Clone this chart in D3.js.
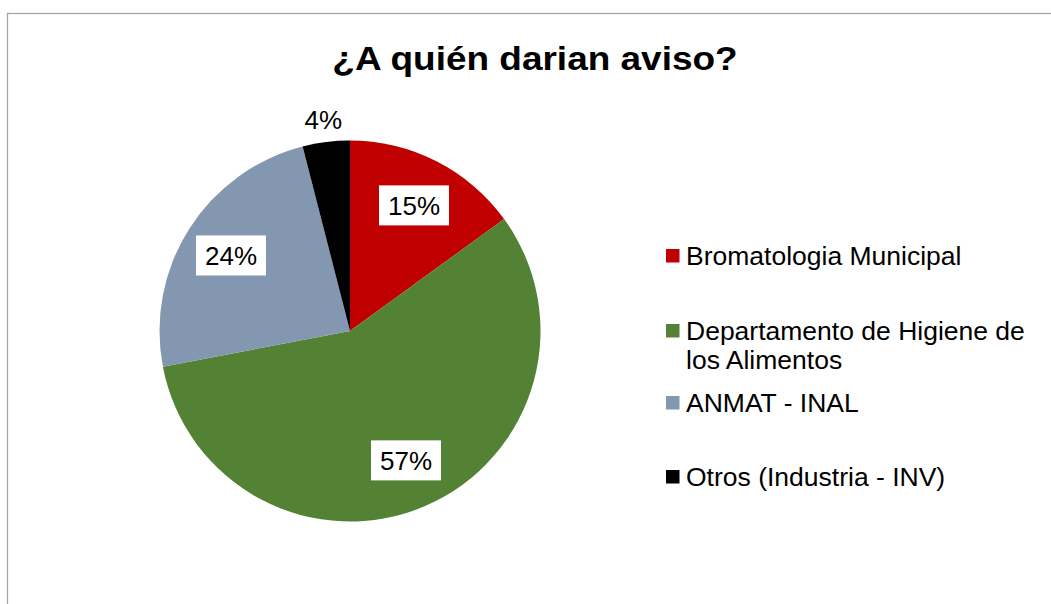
<!DOCTYPE html>
<html>
<head>
<meta charset="utf-8">
<script src="https://cdn.jsdelivr.net/npm/d3@7"></script>
<style>
	body { margin: 0; background: #fff; }
	text { font-family: "Liberation Sans", Arial, sans-serif; }
</style>
</head>
<body>
<svg id="chart"></svg>
<script>
// data
const titleText = "¿A quién darian aviso?";
const categories = ["Bromatologia Municipal", "Departamento de Higiene de los Alimentos", "ANMAT - INAL", "Otros (Industria - INV)"];
const legendLines = [["Bromatologia Municipal"], ["Departamento de Higiene de", "los Alimentos"], ["ANMAT - INAL"], ["Otros (Industria - INV)"]];
const values = [15, 57, 24, 4];
const colors = ["#C00000", "#548235", "#8497B0", "#000000"];

const width = 1051;
const height = 604;
const cx = 350, cy = 331, radius = 190.5;

const svg = d3.select("#chart")
	.attr("width", width)
	.attr("height", height);

// chart area frame (runs off the right and bottom)
svg.append("rect")
	.attr("x", 7.5)
	.attr("y", 13.5)
	.attr("width", width + 10)
	.attr("height", height + 10)
	.attr("fill", "none")
	.attr("stroke", "#a6a6a6")
	.attr("stroke-width", 1.3);

// stretch text a bit wider, like the original rendering
function stretch(sel, factor){
	sel.each(function(){
		let w = this.getComputedTextLength();
		d3.select(this)
			.attr("textLength", w * factor)
			.attr("lengthAdjust", "spacingAndGlyphs");
	});
}

let title = svg.append("text")
	.attr("x", 535)
	.attr("y", 70)
	.attr("text-anchor", "middle")
	.style("font-size", "33px")
	.style("font-weight", "bold")
	.attr("fill", "#000")
	.text(titleText);
stretch(title, 1.12);

let pie = d3.pie().sort(null).value(d => d);
let pieData = pie(values);

let arc = d3.arc().innerRadius(0).outerRadius(radius);
let labelArc = d3.arc().innerRadius(radius * 0.74).outerRadius(radius * 0.74);
let outerArc = d3.arc().innerRadius(radius * 1.12).outerRadius(radius * 1.12);

let g = svg.append("g")
	.attr("transform", "translate(" + cx + "," + cy + ")");

g.selectAll("path.slice")
	.data(pieData)
	.join("path")
	.attr("class", "slice")
	.attr("d", arc)
	.attr("fill", (d, i) => colors[i]);

// labels: small slices go outside without a box
let labels = g.selectAll("g.lbl")
	.data(pieData)
	.join("g")
	.attr("class", "lbl")
	.attr("transform", d => {
		let small = (d.endAngle - d.startAngle) < 0.4;
		let p = small ? outerArc.centroid(d) : labelArc.centroid(d);
		return "translate(" + p + ")";
	});

labels.filter(d => (d.endAngle - d.startAngle) >= 0.4)
	.append("rect")
	.attr("x", -35)
	.attr("y", -20)
	.attr("width", 70)
	.attr("height", 40)
	.attr("fill", "#fff");

labels.append("text")
	.attr("text-anchor", "middle")
	.attr("dy", "0.36em")
	.style("font-size", "26px")
	.attr("fill", "#000")
	.text(d => d.data + "%");

// legend
let legendY = d3.scalePoint()
	.domain(categories)
	.range([265, 486]);

let legend = svg.selectAll("g.legend")
	.data(categories)
	.join("g")
	.attr("class", "legend")
	.attr("transform", (d, i) => "translate(666," + (i == 1 ? 340 : i == 2 ? 412 : legendY(d)) + ")");

legend.append("rect")
	.attr("x", 0)
	.attr("y", -16)
	.attr("width", 13.5)
	.attr("height", 13.5)
	.attr("fill", (d, i) => colors[i]);

legend.each(function(d, i){
	let t = d3.select(this).append("text")
		.attr("x", 20)
		.style("font-size", "26.5px")
		.attr("fill", "#000");
	legendLines[i].forEach((line, j) => {
		t.append("tspan")
			.attr("x", 20)
			.attr("dy", j == 0 ? 0 : 29)
			.text(line);
	});
});
</script>
</body>
</html>
